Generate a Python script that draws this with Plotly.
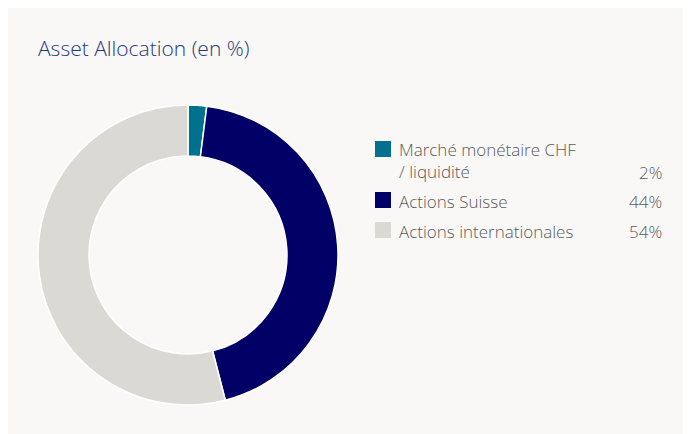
import plotly.graph_objects as go

labels = ["Marché monétaire CHF<br>/ liquidité", "Actions Suisse", "Actions internationales"]
values = [2, 44, 54]
colors = ["#00728f", "#000066", "#dbd9d4"]

OFF = 8  # page margin of the browser
W, H = 691 - OFF, 434 - OFF


def px(x):
    return (x - OFF) / W


def py(y):
    return 1 - (y - OFF) / H


fig = go.Figure()
fig.add_trace(go.Pie(
    labels=labels, values=values, hole=0.66, sort=False, direction="clockwise",
    rotation=0, marker=dict(colors=colors, line=dict(color="white", width=1.5)),
    textinfo="none", hoverinfo="label+percent", showlegend=False,
    domain=dict(x=[px(38), px(338)], y=[py(405), py(105)]),
))

shapes = [dict(type="rect", xref="paper", yref="paper", x0=0, x1=1, y0=0, y1=1,
               fillcolor="#f9f8f6", line_width=0, layer="below")]
annotations = [dict(text="Asset Allocation (en %)", x=px(36), y=py(48), xref="paper", yref="paper",
                    xanchor="left", yanchor="middle", showarrow=False,
                    font=dict(size=21, color="#1f3a78", weight=300))]

rows = [(149, 173), (201, 201), (231, 231)]  # (label center y, value center y)
box_top = [141, 192, 222]
for lab, val, col, (ly, vy), bt in zip(labels, values, colors, rows, box_top):
    shapes.append(dict(type="rect", xref="paper", yref="paper", x0=px(375), x1=px(391),
                       y0=py(bt + 16), y1=py(bt), fillcolor=col, line_width=0))
    n = lab.count("<br>")
    annotations.append(dict(text=lab, x=px(397), y=py(ly + n * 12), xref="paper", yref="paper",
                            xanchor="left", yanchor="middle", align="left", showarrow=False,
                            font=dict(size=17, color="#5a5a5a", weight=300)))
    annotations.append(dict(text=f"{val}%", x=px(664), y=py(vy), xref="paper", yref="paper",
                            xanchor="right", yanchor="middle", align="right", showarrow=False,
                            font=dict(size=17, color="#5a5a5a", weight=300)))

fig.update_layout(
    width=W, height=H, margin=dict(l=0, r=0, t=0, b=0),
    paper_bgcolor="white", plot_bgcolor="white",
    font=dict(family="Open Sans, sans-serif"),
    shapes=shapes, annotations=annotations,
)
fig.write_html("out.html")
